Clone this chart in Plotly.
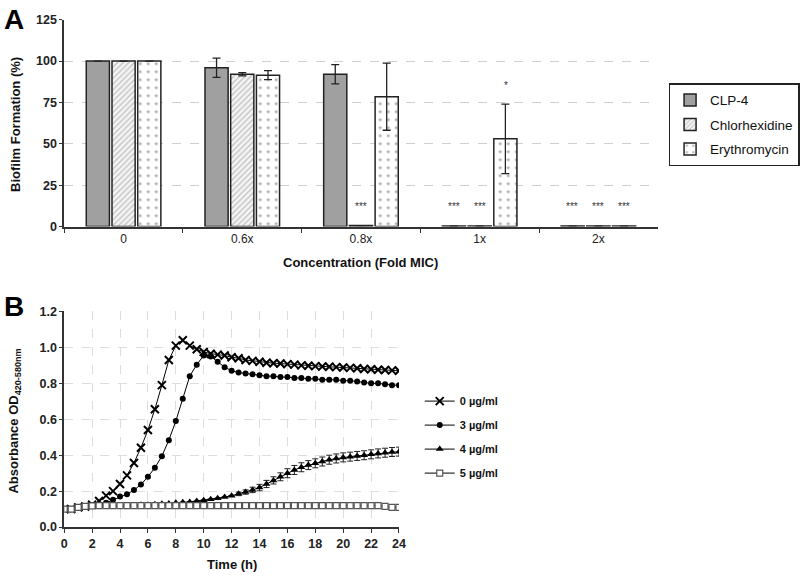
import plotly.graph_objects as go

# ---------------- Panel A data ----------------
categories = ["0", "0.6x", "0.8x", "1x", "2x"]
series_names = ["CLP-4", "Chlorhexidine", "Erythromycin"]
clp4 = [100, 96, 92, 0.3, 0.3]
clp4_err = [0, 5.8, 5.8, 0, 0]
chlorhex = [100, 92, 0.6, 0.3, 0.3]
chlorhex_err = [0, 1.0, 0, 0, 0]
erythro = [100, 91.5, 78.5, 53, 0.3]
erythro_err = [0, 2.7, 20.3, 21, 0]
clp4_sig = ["", "", "", "***", "***"]
chlorhex_sig = ["", "", "***", "***", "***"]
erythro_sig = ["", "", "", "*", "***"]

# ---------------- Panel B data ----------------
time_h = [0, 0.5, 1, 1.5, 2, 2.5, 3, 3.5, 4, 4.5, 5, 5.5, 6, 6.5, 7, 7.5, 8, 8.5,
          9, 9.5, 10, 10.5, 11, 11.5, 12, 12.5, 13, 13.5, 14, 14.5, 15, 15.5, 16,
          16.5, 17, 17.5, 18, 18.5, 19, 19.5, 20, 20.5, 21, 21.5, 22, 22.5, 23, 23.5, 24]
od_0 = [0.10, 0.10, 0.11, 0.115, 0.125, 0.145, 0.175, 0.20, 0.24, 0.288, 0.357, 0.442,
        0.54, 0.656, 0.79, 0.93, 1.01, 1.04, 1.01, 0.99, 0.975, 0.965, 0.96, 0.955,
        0.945, 0.94, 0.93, 0.925, 0.92, 0.915, 0.912, 0.91, 0.907, 0.904, 0.90, 0.898,
        0.896, 0.894, 0.892, 0.89, 0.888, 0.886, 0.884, 0.88, 0.878, 0.876, 0.874, 0.872, 0.87]
od_3 = [0.10, 0.10, 0.11, 0.115, 0.12, 0.125, 0.135, 0.152, 0.17, 0.183, 0.206, 0.237,
        0.28, 0.33, 0.395, 0.484, 0.59, 0.714, 0.84, 0.904, 0.955, 0.95, 0.92, 0.89,
        0.87, 0.86, 0.855, 0.85, 0.845, 0.84, 0.84, 0.835, 0.835, 0.83, 0.83, 0.825,
        0.825, 0.82, 0.82, 0.82, 0.815, 0.815, 0.81, 0.805, 0.80, 0.80, 0.795, 0.79, 0.79]
od_4 = [0.10, 0.10, 0.11, 0.115, 0.12, 0.12, 0.12, 0.12, 0.12, 0.12, 0.122, 0.124,
        0.125, 0.127, 0.13, 0.132, 0.135, 0.138, 0.14, 0.145, 0.15, 0.155, 0.16, 0.167,
        0.175, 0.185, 0.195, 0.207, 0.22, 0.24, 0.26, 0.28, 0.30, 0.318, 0.333, 0.345,
        0.355, 0.365, 0.375, 0.382, 0.388, 0.392, 0.396, 0.40, 0.405, 0.41, 0.414, 0.418, 0.42]
od_4_err = [0, 0, 0, 0, 0, 0, 0, 0, 0, 0, 0, 0, 0, 0, 0, 0, 0, 0, 0, 0, 0, 0, 0, 0, 0,
            0.01, 0.012, 0.015, 0.018, 0.02, 0.02, 0.022,
            0.025, 0.025, 0.025, 0.025, 0.025, 0.025, 0.025, 0.025, 0.025, 0.025, 0.025,
            0.025, 0.025, 0.025, 0.025, 0.025, 0.025]
od_5 = [0.10, 0.10, 0.11, 0.115, 0.118, 0.12, 0.12, 0.12, 0.12, 0.12, 0.12, 0.12,
        0.12, 0.12, 0.12, 0.12, 0.12, 0.12, 0.12, 0.12, 0.12, 0.12, 0.12, 0.12,
        0.12, 0.12, 0.12, 0.12, 0.12, 0.12, 0.12, 0.12, 0.12, 0.12, 0.12, 0.12,
        0.12, 0.12, 0.12, 0.12, 0.12, 0.12, 0.12, 0.12, 0.12, 0.12, 0.115, 0.11, 0.11]
conc_labels = ["0 µg/ml", "3 µg/ml", "4 µg/ml", "5 µg/ml"]

FONT = "Liberation Sans, Arial, sans-serif"
AXC = "#333333"
GRID = "#d0d0d0"

fig = go.Figure()

# ---- Panel A bars ----
bar_values = [clp4, chlorhex, erythro]
bar_errs = [clp4_err, chlorhex_err, erythro_err]
bar_sigs = [clp4_sig, chlorhex_sig, erythro_sig]
bar_styles = [
    dict(color="#a0a0a0"),
    dict(color="white", pattern=dict(shape="/", fgcolor="#8a8a8a", bgcolor="#f4f4f4", size=4, solidity=0.3)),
    dict(color="white", pattern=dict(shape=".", fgcolor="#666666", bgcolor="white", size=8, solidity=0.12)),
]
for i, name in enumerate(series_names):
    mk = dict(bar_styles[i])
    mk["line"] = dict(color="#222222", width=1.5)
    fig.add_trace(go.Bar(
        x=categories, y=bar_values[i], name=name, marker=mk,
        error_y=dict(type="data", array=bar_errs[i], visible=True, color="#222222", thickness=1.3, width=4),
        xaxis="x", yaxis="y", legend="legend", legendgroup="a%d" % i,
    ))

# significance stars
group_frac = 1 - 0.35
slot_px = 601 / 5 * group_frac / 3
for i in range(3):
    for j, cat in enumerate(categories):
        s = bar_sigs[i][j]
        if s:
            fig.add_annotation(
                x=cat, y=bar_values[i][j] + bar_errs[i][j] + 7, xref="x", yref="y",
                xshift=(i - 1) * slot_px, text=s, showarrow=False, yanchor="bottom",
                xanchor="center",
                font=dict(family=FONT, size=10, color="#333333"),
            )

# ---- Panel B lines ----
od_series = [od_0, od_3, od_4, od_5]
symbols = [
    dict(symbol="x-thin-open", size=8, color="black", line=dict(color="black", width=2)),
    dict(symbol="circle", size=6, color="black"),
    dict(symbol="triangle-up", size=7, color="black"),
    dict(symbol="square", size=6, color="white", line=dict(color="#555555", width=1.2)),
]
for k, lab in enumerate(conc_labels):
    kw = {}
    if k == 2:
        kw["error_y"] = dict(type="data", array=od_4_err, visible=True, color="#222222", thickness=1, width=3)
    fig.add_trace(go.Scatter(
        x=time_h, y=od_series[k], mode="lines+markers", name="<b>%s</b>" % lab,
        line=dict(color="black", width=1), marker=symbols[k],
        xaxis="x2", yaxis="y2", legend="legend2", legendgroup="b%d" % k, **kw,
    ))

# ---- Labels ----
title_font = dict(family=FONT, size=13, color="#111111")
def label(x, y, text, font, angle=0):
    fig.add_annotation(x=x / 800, y=1 - y / 579, xref="paper", yref="paper",
                       xanchor="center", yanchor="middle", textangle=angle,
                       text=text, showarrow=False, font=font)

label(362, 262, "<b>Concentration (Fold MIC)</b>", title_font)
label(12, 120, "<b>Biofilm Formation (%)</b>", title_font, -90)
label(232, 571, "<b>Time (h)</b>", title_font)
label(12, 424, "<b>Absorbance OD<sub>420-580nm</sub></b>", title_font, -90)
label(11, 13, "<b>A</b>", dict(family=FONT, size=28, color="black"))
label(11, 307, "<b>B</b>", dict(family=FONT, size=28, color="black"))

tick_font = dict(family=FONT, size=12, color="#222222")
bold_tick_font = dict(family=FONT, size=12.5, color="#222222")
fig.update_layout(
    width=800, height=579,
    margin=dict(l=0, r=0, t=0, b=0),
    paper_bgcolor="white", plot_bgcolor="white",
    barmode="group", bargap=0.35, bargroupgap=0.1,
    font=dict(family=FONT),
    xaxis=dict(domain=[62 / 800, 663 / 800], anchor="y", type="category",
               tickson="boundaries", ticks="outside", ticklen=5, tickcolor=AXC,
               showline=True, linecolor=AXC, linewidth=1.5, showgrid=False,
               tickfont=tick_font),
    yaxis=dict(domain=[1 - 225 / 579, 1 - 13 / 579], anchor="x", range=[0, 125],
               tickvals=[0, 25, 50, 75, 100, 125],
               ticktext=["<b>%d</b>" % v for v in [0, 25, 50, 75, 100, 125]],
               ticks="outside", ticklen=3, tickcolor=AXC,
               showline=True, linecolor=AXC, linewidth=1.5,
               showgrid=True, gridcolor=GRID, griddash="dash", gridwidth=1,
               zeroline=False, tickfont=bold_tick_font),
    xaxis2=dict(domain=[62 / 800, 401 / 800], anchor="y2", range=[0, 24],
                tickvals=[0, 2, 4, 6, 8, 10, 12, 14, 16, 18, 20, 22, 24],
                ticktext=["<b>%d</b>" % v for v in [0, 2, 4, 6, 8, 10, 12, 14, 16, 18, 20, 22, 24]],
                ticks="outside", ticklen=4, tickcolor=AXC,
                showline=True, linecolor=AXC, linewidth=1.5,
                showgrid=True, gridcolor="#dddddd", griddash="dash", gridwidth=1,
                zeroline=False, tickfont=bold_tick_font),
    yaxis2=dict(domain=[1 - 533 / 579, 1 - 312 / 579], anchor="x2", range=[0, 1.2],
                tickvals=[0, 0.2, 0.4, 0.6, 0.8, 1.0, 1.2],
                ticktext=["<b>%.1f</b>" % v for v in [0, 0.2, 0.4, 0.6, 0.8, 1.0, 1.2]],
                ticks="outside", ticklen=3, tickcolor=AXC,
                showline=True, linecolor=AXC, linewidth=1.5,
                showgrid=True, gridcolor="#dddddd", griddash="dash", gridwidth=1,
                zeroline=False, tickfont=bold_tick_font),
    legend=dict(x=674 / 800, y=1 - 78 / 579, xanchor="left", yanchor="top",
                bordercolor="#222222", borderwidth=1.5, bgcolor="white",
                font=dict(family=FONT, size=13.5, color="#111111"),
                tracegroupgap=4, traceorder="grouped"),
    legend2=dict(x=422 / 800, y=1 - 389 / 579, xanchor="left", yanchor="top",
                 borderwidth=0, bgcolor="rgba(0,0,0,0)",
                 font=dict(family=FONT, size=11, color="#111111"),
                 tracegroupgap=5, traceorder="grouped"),
)

fig.write_html("out.html", config={"displayModeBar": False},
               post_script="document.body.style.margin='0';")
